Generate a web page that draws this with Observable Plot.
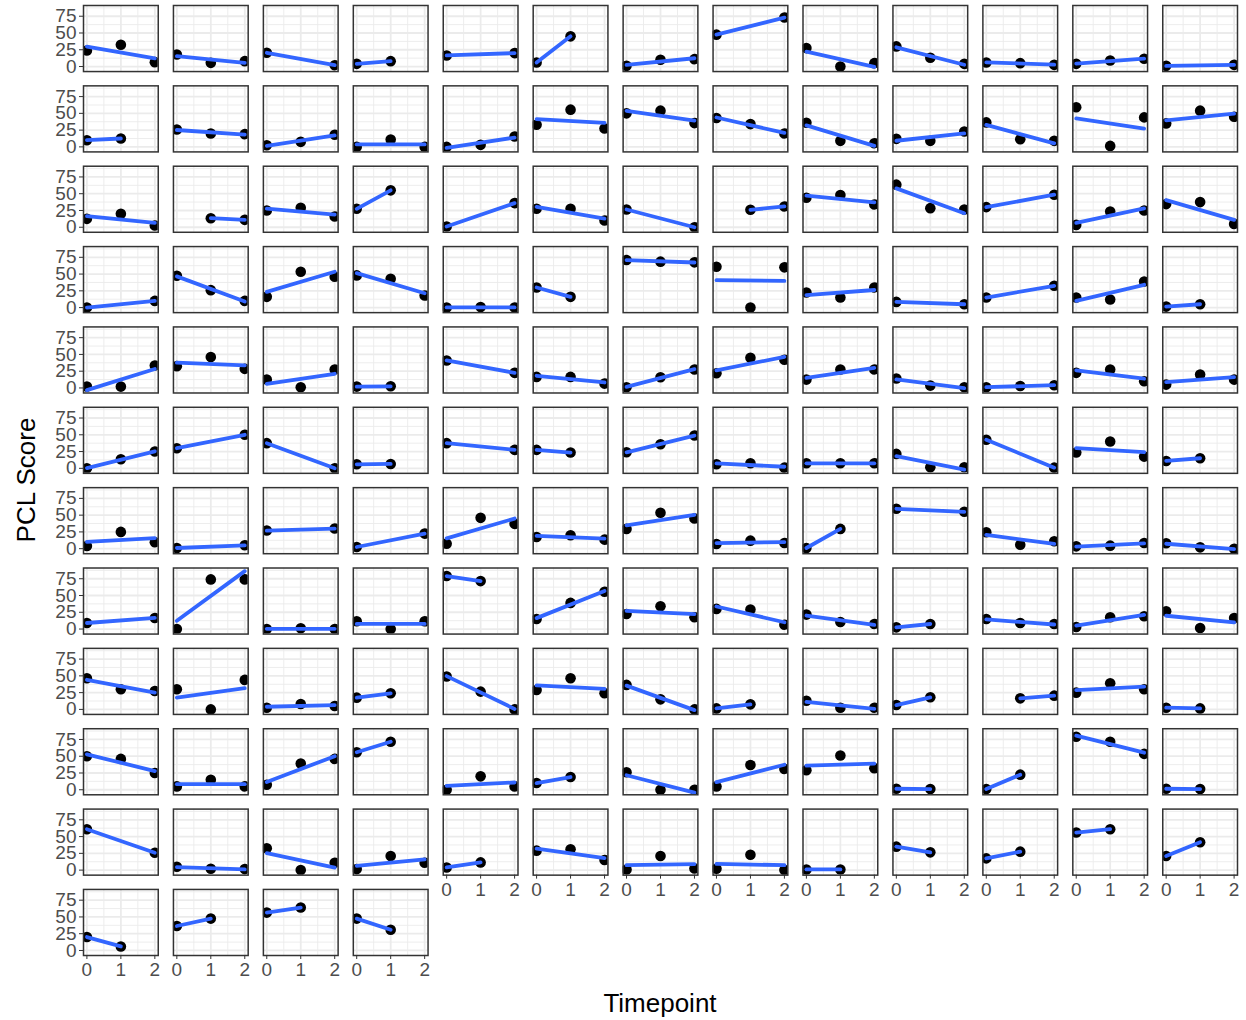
<!DOCTYPE html>
<html>
<head>
<meta charset="utf-8">
<script src="https://cdn.jsdelivr.net/npm/d3@7"></script>
<script src="https://cdn.jsdelivr.net/npm/@observablehq/plot@0.6"></script>
<style>
  html, body { margin: 0; padding: 0; background: #ffffff; }
</style>
</head>
<body>
<div id="chart"></div>
<script>
// ---- data ----
const timepoints = [0, 1, 2];
const xTicks = [0, 1, 2];
const yTicks = [0, 25, 50, 75];
const xTitle = "Timepoint";
const yTitle = "PCL Score";

// each panel: PCL score at timepoint 0, 1, 2 (null = not observed)
const row01 = [[24,32.5,6.5],[18,5.5,8],[20.5,null,2],[4,8,null],[16.5,null,20],[6,45,null],[1,10,11],[47.5,null,73],[27.5,0,5],[30,13,4],[6,5,2.5],[4,9,11.5],[1,null,2.5]];
const row02 = [[10,12.5,null],[26,20,19],[2.5,7.5,18],[0,11,0],[0,3,15.5],[33,55.5,27.5],[50,54,35.5],[43,34,20],[36,9,5.5],[12,9,23],[36.5,11.5,9],[59,1.5,44],[35,54,45]];
const row03 = [[12.5,20,2.5],[null,13.5,11],[25,29,16],[27.5,55,null],[1,null,36],[27.5,27.5,10],[26.5,null,0],[null,26,31],[44,48,34],[63.5,28.5,26.5],[30,null,48.5],[3.5,23.5,25],[34.5,37.5,5]];
const row04 = [[0,null,10],[47.5,26,10],[16,53.5,46],[48,43,18],[0,1,0],[30,16,null],[71,68.5,67.5],[61,0,60],[22.5,15,30],[8.5,null,5],[15,null,32.5],[15,12,39],[1.5,5,null]];
const row05 = [[2,2,33.5],[32.5,46,28.5],[12.5,1,27.5],[2,2.5,null],[41,null,22.5],[16.5,16.5,6.5],[1,16,27.5],[22,45,42],[12.5,27.5,27.5],[14,3.5,1],[1,3,4],[22.5,27.5,10],[5,20,12.5]];
const row06 = [[0,13.5,25],[30,null,50],[37.5,null,0],[6,6.5,null],[37.5,null,27.5],[27.5,23.5,null],[24,36,49],[6,7.5,1],[7.5,7.5,7.5],[21.5,1.5,1.5],[42.5,null,1],[23.5,40,17.5],[11,15,null]];
const row07 = [[4,25,9.5],[1,null,5],[27,null,30],[2.5,null,22.5],[7.5,46,37],[17.5,20,13.5],[29.5,53.5,45],[7,12,8.5],[1,29.5,null],[59.5,null,55],[24.5,6,11],[3.5,4.5,8.5],[8,2,0]];
const row08 = [[9,null,16.5],[0,74,74],[0,1,0],[11.5,0,11.5],[79,71.5,null],[15,39,55.5],[22.5,34,17.5],[30,29,6.5],[21.5,10.5,7.5],[2.5,7.5,null],[15,9,7.5],[3,17.5,19],[26.5,1.5,16.5]];
const row09 = [[46.5,30,27.5],[30,0,44],[2.5,8,5],[17.5,24,null],[49,26.5,0],[29,46.5,24],[36.5,15,0],[1.5,7.5,null],[13,2.5,2.5],[6.5,18,null],[null,16.5,20.5],[25,39,30],[2.5,1.5,null]];
const row10 = [[50,46,25],[5,15,5],[7.5,39,46],[56,71.5,null],[0,20,5],[10,19,null],[26,0,0],[5,37,31],[29,51,32],[1.5,1,null],[1,22.5,null],[79,71.5,53.5],[1.5,1,null]];
const row11 = [[61,null,26],[5,2,1.5],[32.5,0,11],[1.5,21,11],[4,11.5,null],[29,31,15],[1,21,2.5],[2,23,0],[1,1,null],[35,26.5,null],[17.5,27.5,null],[56,61,null],[21,41.5,null]];
const row12 = [[20,6,null],[36.5,47.5,null],[56.5,64,null],[47.5,31,null]];

const panelRows = [row01,row02,row03,row04,row05,row06,row07,row08,row09,row10,row11,row12];

// long table for Plot
const table = [];
panelRows.forEach((r, ri) => r.forEach((vals, ci) => vals.forEach((v, ti) => {
  if (v != null) table.push({row: ri, col: ci, t: timepoints[ti], score: v});
})));

const W = 1246, H = 1020;
const chart = Plot.plot({
  width: W, height: H,
  marginLeft: 83, marginRight: 9, marginTop: 5, marginBottom: 65,
  style: {fontFamily: "'Liberation Sans', Arial, sans-serif", fontSize: "19px", background: "#ffffff", color: "#4D4D4D", overflow: "visible"},
  facet: {data: table, x: "col", y: "row"},
  fx: {domain: d3.range(13), paddingInner: 0.169, paddingOuter: 0, axis: null, round: false, label: null},
  fy: {domain: d3.range(12), paddingInner: 0.178, paddingOuter: 0, axis: null, round: false, label: null},
  x: {domain: [-0.1, 2.1]},
  y: {domain: [-7.5, 91]},
  marks: [
    Plot.frame({fill: "#ffffff", stroke: null}),
    Plot.gridX([0.5, 1.5], {stroke: "#EBEBEB", strokeOpacity: 1, strokeWidth: 0.9}),
    Plot.gridY([12.5, 37.5, 62.5, 87.5], {stroke: "#EBEBEB", strokeOpacity: 1, strokeWidth: 0.9}),
    Plot.gridX(xTicks, {stroke: "#EBEBEB", strokeOpacity: 1, strokeWidth: 1.8}),
    Plot.gridY(yTicks, {stroke: "#EBEBEB", strokeOpacity: 1, strokeWidth: 1.8}),
    Plot.dot(table, {x: "t", y: "score", r: 5.3, fill: "#000000", stroke: null, clip: true}),
    Plot.linearRegressionY(table, {x: "t", y: "score", ci: 0, stroke: "#3366FF", strokeWidth: 3.8, clip: true}),
    Plot.frame({stroke: "#333333", strokeWidth: 1.5}),
    Plot.axisX(xTicks, {tickSize: 4, tickPadding: 3, stroke: "#333333", fill: "#4D4D4D", fontSize: 19, label: null, facetAnchor: "bottom-empty"}),
    Plot.axisY(yTicks, {tickSize: 4, tickPadding: 3, stroke: "#333333", fill: "#4D4D4D", fontSize: 19, label: null, facetAnchor: "left"})
  ]
});

const svg = d3.select(chart);
svg.append("text")
  .attr("x", (83 + W - 9) / 2).attr("y", 1012)
  .attr("text-anchor", "middle").attr("fill", "#000000")
  .style("font-size", "26px").style("font-family", "'Liberation Sans', Arial, sans-serif")
  .text(xTitle);
svg.append("text")
  .attr("transform", `translate(35, ${(5 + H - 65) / 2}) rotate(-90)`)
  .attr("text-anchor", "middle").attr("fill", "#000000")
  .style("font-size", "26px").style("font-family", "'Liberation Sans', Arial, sans-serif")
  .text(yTitle);

document.getElementById("chart").appendChild(chart);
</script>
</body>
</html>
